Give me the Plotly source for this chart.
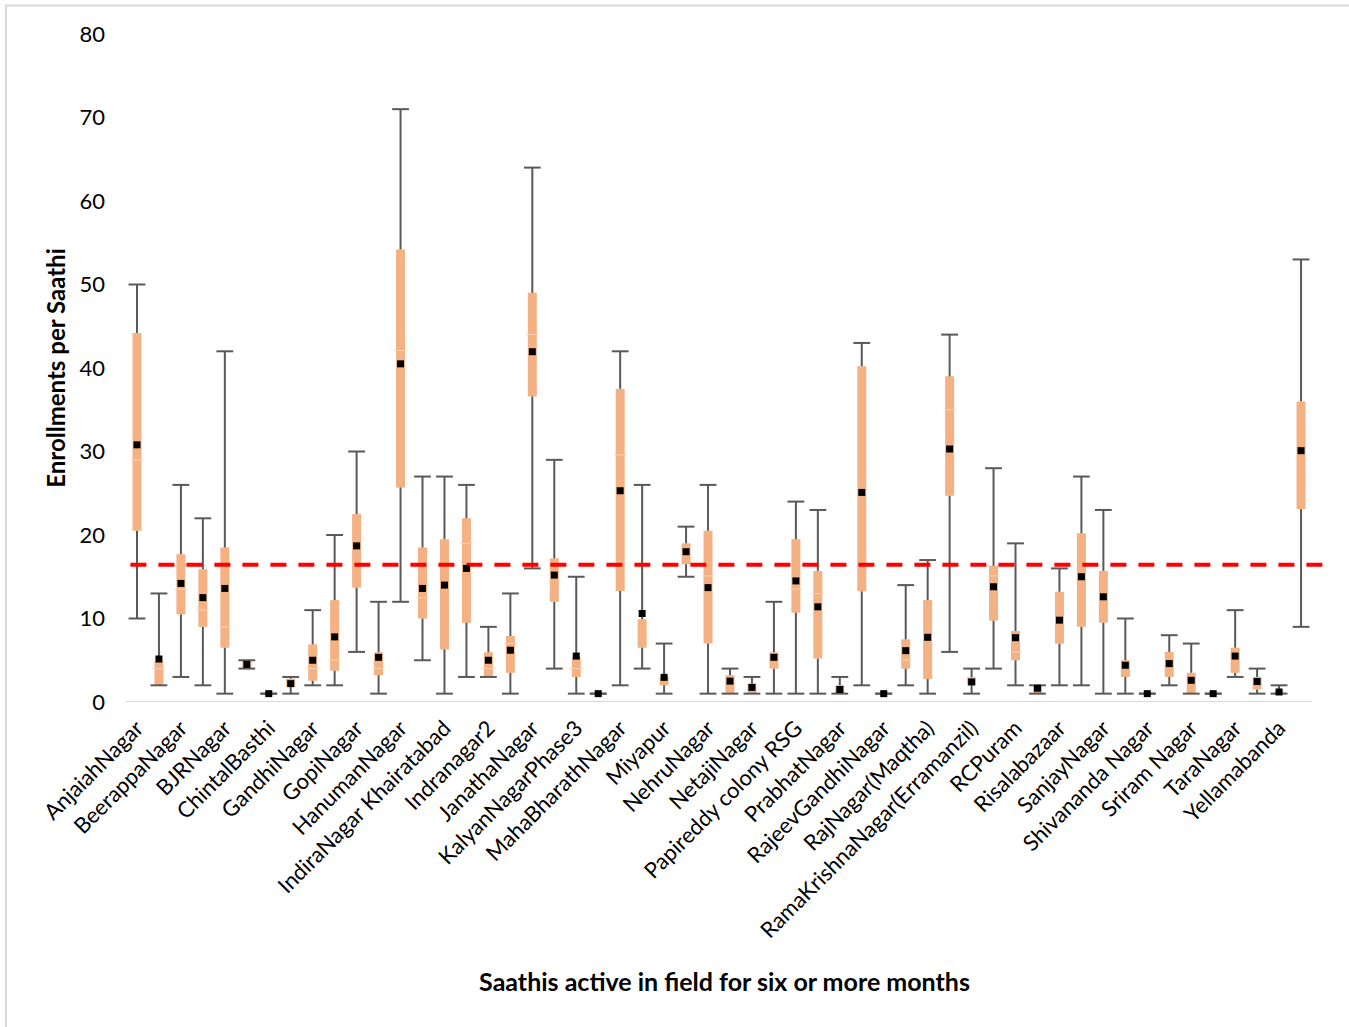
import plotly.graph_objects as go

# Labels shown on the axis (every other category is labelled)
labels = ["AnjaiahNagar", "BeerappaNagar", "BJRNagar", "ChintalBasthi", "GandhiNagar",
          "GopiNagar", "HanumanNagar", "IndiraNagar Khairatabad", "Indranagar2",
          "JanathaNagar", "KalyanNagarPhase3", "MahaBharathNagar", "Miyapur", "NehruNagar",
          "NetajiNagar", "Papireddy colony RSG", "PrabhatNagar", "RajeevGandhiNagar",
          "RajNagar(Maqtha)", "RamaKrishnaNagar(Erramanzil)", "RCPuram", "Risalabazaar",
          "SanjayNagar", "Shivananda Nagar", "Sriram Nagar", "TaraNagar", "Yellamabanda"]

mins = [10, 2, 3, 2, 1, 4, 1, 1, 2, 2, 6, 1, 12, 5, 1, 3, 3, 1, 16, 4, 1, 1, 2, 4, 1, 15, 1,
        1, 1, 1, 1, 1, 1, 2, 1, 2, 1, 6, 1, 4, 2, 1, 2, 2, 1, 1, 1, 2, 1, 1, 3, 1, 1, 9]
q1 = [20.5, 2, 10.5, 9.0, 6.5, 4, 1, 1.8, 2.55, 3.75, 13.7, 3.2, 25.7, 10.0, 6.3, 9.5, 3.0,
      3.5, 36.6, 12.0, 3.0, 1, 13.3, 6.5, 2.0, 16.5, 7.0, 1.0, 1.0, 4.0, 10.7, 5.2, 1.0,
      13.25, 1, 4.0, 2.75, 24.7, 2.0, 9.75, 5.0, 1.0, 7.0, 9.0, 9.5, 3.0, 1, 3.0, 1.0, 1,
      3.5, 1.5, 1.0, 23.1]
medians = [29.0, 4.0, 13.5, 11.0, 9.0, None, None, None, 4.0, 5.0, None, 4.0, 42.1, 12.5,
           None, 19.0, 4.0, 7.0, 44.0, None, 4.0, None, 29.6, None, None, None, 15.1, None,
           None, None, 13.5, 13.0, None, None, None, 5.0, None, 35.0, None, 15.1, 6.0, None,
           None, None, None, None, None, None, None, None, None, None, None, None]
q3 = [44.2, 4.8, 17.7, 15.9, 18.5, 5, 1, 2.8, 6.9, 12.2, 22.5, 5.95, 54.2, 18.5, 19.5, 22.0,
      5.95, 7.9, 49.0, 17.2, 5.35, 1, 37.5, 9.9, 3.0, 19.0, 20.5, 3.2, 2.2, 5.95, 19.5, 15.7,
      2.0, 40.2, 1, 7.5, 12.2, 39.0, 2.95, 16.3, 8.5, 2.0, 13.2, 20.2, 15.7, 5.0, 1, 6.0, 3.5,
      1, 6.5, 3.0, 1.3, 36.0]
maxs = [50, 13, 26, 22, 42, 5, 1, 3, 11, 20, 30, 12, 71, 27, 27, 26, 9, 13, 64, 29, 15, 1,
        42, 26, 7, 21, 26, 4, 3, 12, 24, 23, 3, 43, 1, 14, 17, 44, 4, 28, 19, 2, 16, 27, 23,
        10, 1, 8, 7, 1, 11, 4, 2, 53]
means = [30.8, 5.15, 14.2, 12.5, 13.6, 4.5, 1, 2.2, 5.0, 7.8, 18.7, 5.35, 40.5, 13.6, 14.0,
         16.0, 5.0, 6.2, 41.95, 15.2, 5.5, 1, 25.3, 10.6, 2.95, 18.0, 13.7, 2.5, 1.75, 5.35,
         14.5, 11.4, 1.5, 25.1, 1, 6.15, 7.75, 30.3, 2.4, 13.8, 7.7, 1.65, 9.8, 15.0, 12.6,
         4.4, 1, 4.6, 2.6, 1, 5.5, 2.45, 1.2, 30.1]
benchmark = 16.45

n = len(means)
xs = list(range(n))

FONT = "Lato"
GRAY = "#595959"

fig = go.Figure()

# baseline (x axis line)
fig.add_trace(go.Scatter(x=[-0.5, n - 0.5], y=[0, 0], mode="lines",
                         line=dict(color="#d9d9d9", width=2), hoverinfo="skip"))

# boxes (Q1..Q3)
fig.add_trace(go.Bar(x=xs, y=[b - a for a, b in zip(q1, q3)], base=q1, width=0.41,
                     marker=dict(color="#f4b183", line=dict(width=0)), hoverinfo="skip"))

# whisker segments
wx, wy = [], []
for i in xs:
    wx += [i, i, None, i, i, None]
    wy += [mins[i], q1[i], None, q3[i], maxs[i], None]
fig.add_trace(go.Scatter(x=wx, y=wy, mode="lines", line=dict(color=GRAY, width=2),
                         hoverinfo="skip", connectgaps=False))

# whisker caps
fig.add_trace(go.Scatter(x=xs + xs, y=mins + maxs, mode="markers",
                         marker=dict(symbol="line-ew", size=12,
                                     line=dict(color=GRAY, width=2)),
                         hoverinfo="skip", cliponaxis=False))

# median lines (faint)
mx = [i for i in xs if medians[i] is not None]
my = [medians[i] for i in mx]
fig.add_trace(go.Scatter(x=mx, y=my, mode="markers",
                         marker=dict(symbol="line-ew", size=9,
                                     line=dict(color="#f9d2b4", width=1)),
                         hoverinfo="skip"))

# benchmark dashed line
fig.add_trace(go.Scatter(x=[-0.3, n + 0.0], y=[benchmark, benchmark], mode="lines",
                         line=dict(color="#ff0000", width=4, dash="16px,12px"),
                         hoverinfo="skip"))

# means
fig.add_trace(go.Scatter(x=xs, y=means, mode="markers",
                         marker=dict(symbol="square", size=7, color="black"),
                         cliponaxis=False))

fig.update_layout(
    width=1349, height=1027,
    margin=dict(l=126, r=26, t=34, b=325),
    paper_bgcolor="white", plot_bgcolor="white",
    showlegend=False,
    font=dict(family=FONT, size=22, color="black"),
    xaxis=dict(range=[-0.5, n + 0.0], tickmode="array",
               tickvals=xs[0::2], ticktext=labels, tickangle=-45,
               showgrid=False, zeroline=False, showline=False, ticks="",
               ticklabelstandoff=8,
               tickfont=dict(family=FONT, size=22, color="black"),
               title=dict(text="Saathis active in field for six or more months",
                          font=dict(family=FONT, size=25, weight="bold"),
                          standoff=31),
               automargin=False),
    yaxis=dict(range=[0, 80], tickmode="array", tickvals=list(range(0, 81, 10)),
               showgrid=False, zeroline=False, showline=False, ticks="",
               ticklabelstandoff=20,
               tickfont=dict(family=FONT, size=22, color="black"),
               title=dict(text="Enrollments per Saathi",
                          font=dict(family=FONT, size=24, weight="bold"),
                          standoff=7),
               automargin=False),
    shapes=[dict(type="rect", xref="paper", yref="paper",
                 x0=(6 - 126) / 1197, x1=(1380 - 126) / 1197,
                 y0=(702 - 1060) / 668, y1=(702 - 5.5) / 668,
                 line=dict(color="#d9d9d9", width=2), layer="below")],
)

fig.write_html("out.html", config={"displayModeBar": False},
               post_script="document.body.style.margin='0';document.body.style.overflow='hidden';")
